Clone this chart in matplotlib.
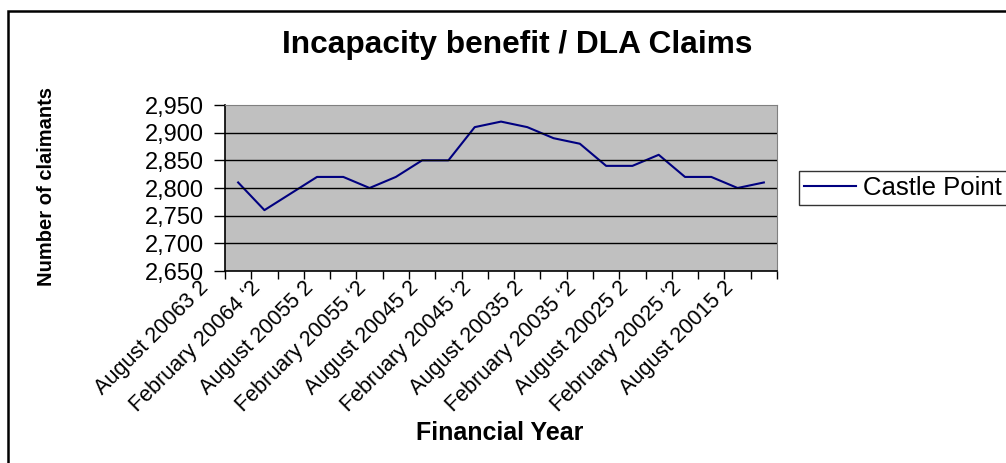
from matplotlib import pyplot as plt
from matplotlib import transforms as mtrans
from matplotlib.patches import Rectangle
import numpy as np

# ********** Data **********

claimants = [2810, 2760, 2790, 2820, 2820, 2800, 2820, 2850, 2850, 2910, 2920,
             2910, 2890, 2880, 2840, 2840, 2860, 2820, 2820, 2800, 2810]

period_labels = ['August 20063 2', 'February 20064 \u20182', 'August 20055 2',
                 'February 20055 \u20182', 'August 20045 2', 'February 20045 \u20182',
                 'August 20035 2', 'February 20035 \u20182', 'August 20025 2',
                 'February 20025 \u20182', 'August 20015 2']

y_ticks = [2650, 2700, 2750, 2800, 2850, 2900, 2950]

series_name = 'Castle Point'

plt.rcParams['font.family'] = ['Liberation Sans', 'DejaVu Sans']

W, H = 1006, 463
fig = plt.figure(figsize=(W / 100, H / 100), dpi=100)

# outer chart border (runs off the right and bottom edge)
fig.patches.append(Rectangle((8 / W, -0.05), 1.2, (H - 11) / H + 0.05, transform=fig.transFigure,
                             fill=False, edgecolor='black', linewidth=1.8))

ax = fig.add_axes([225 / W, 1 - 271 / H, (777 - 225) / W, (271 - 105) / H])
ax.set_facecolor('#c0c0c0')

x = np.arange(1, len(claimants) + 1)
ax.plot(x, claimants, color='#000080', linewidth=1.5, label=series_name)

ax.set_xlim(0.5, len(claimants) + 0.5)
ax.set_ylim(y_ticks[0], y_ticks[-1])
ax.set_yticks(y_ticks)
ax.set_yticklabels(['{:,}'.format(v) for v in y_ticks], fontsize=17)
for v in y_ticks[1:-1]:
	ax.axhline(v, color='black', linewidth=1.0)

# category boundaries carry the tick marks, labels sit on every other category
ax.set_xticks(np.arange(0.5, len(claimants) + 1, 1.0), minor=True)
ax.set_xticks(x[::2])
ax.set_xticklabels(period_labels, fontsize=15.5, rotation=45, ha='right', rotation_mode='anchor', va='center')
ax.tick_params(axis='x', which='major', length=0, pad=0)
ax.tick_params(axis='x', which='minor', length=6, width=1, color='black')
ax.tick_params(axis='y', length=8, width=1, color='black', pad=7)
shift = mtrans.ScaledTranslation(-33 / 100, -14 / 100, fig.dpi_scale_trans)
for lbl in ax.get_xticklabels():
	lbl.set_transform(lbl.get_transform() + shift)

for side in ['top', 'right']:
	ax.spines[side].set_color('#808080')
ax.spines['left'].set_color('black')
ax.spines['bottom'].set_color('black')
ax.spines['left'].set_linewidth(1.2)
ax.spines['bottom'].set_linewidth(1.2)

fig.text(517 / W, 1 - 45 / H, 'Incapacity benefit / DLA Claims', fontsize=22.8, fontweight='bold',
         ha='center', va='center')
fig.text(47 / W, 1 - 187 / H, 'Number of claimants', fontsize=14.5, fontweight='bold',
         ha='center', va='center', rotation=90)
fig.text(500 / W, 1 - 433 / H, 'Financial Year', fontsize=18, fontweight='bold',
         ha='center', va='center')

leg = ax.legend(loc='center left', bbox_to_anchor=(799 / W, 1 - 188 / H), bbox_transform=fig.transFigure,
                fontsize=18.5, frameon=True, fancybox=False, handlelength=2.0, borderpad=0.2,
                handletextpad=0.3, borderaxespad=0)
leg.get_frame().set_edgecolor('black')
leg.get_frame().set_linewidth(1.0)

fig.savefig('out.png', dpi=100)
